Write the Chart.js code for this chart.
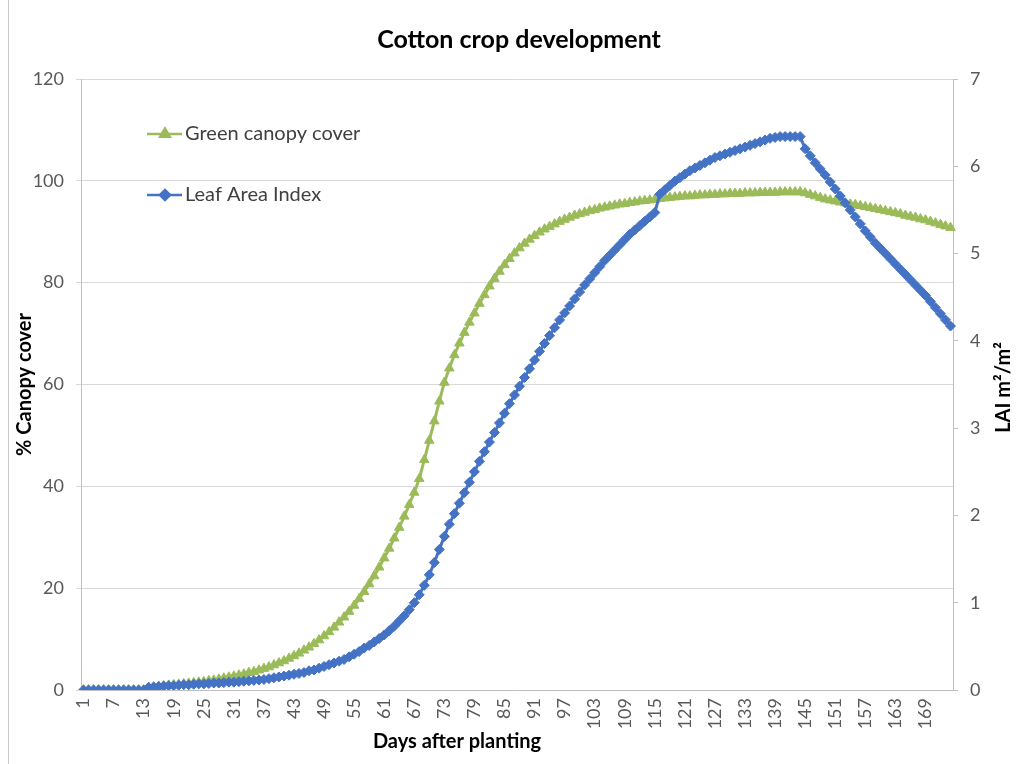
<!DOCTYPE html>
<html>
<head>
<meta charset="utf-8">
<title>Cotton crop development</title>
<script src="https://cdn.jsdelivr.net/npm/chart.js@4.4.1/dist/chart.umd.min.js"></script>
<style>
  html, body { margin: 0; padding: 0; background: #ffffff; }
  #wrap { position: relative; width: 1019px; height: 764px; overflow: hidden; }
  #frame { position: absolute; left: 8px; top: 0; bottom: 0; border-left: 1px solid #c8c8c8; }
  canvas { position: absolute; left: 0; top: 0; }
</style>
</head>
<body>
<div id="wrap">
  <canvas id="chart" width="1019" height="764"></canvas>
  <div id="frame"></div>
</div>
<script>
// Days after planting (category axis)
const days = [
  1,2,3,4,5,6,7,8,9,10,11,12,13,14,15,16,17,18,19,20,21,22,23,24,25,26,27,28,29,30,
  31,32,33,34,35,36,37,38,39,40,41,42,43,44,45,46,47,48,49,50,51,52,53,54,55,56,57,58,59,60,
  61,62,63,64,65,66,67,68,69,70,71,72,73,74,75,76,77,78,79,80,81,82,83,84,85,86,87,88,89,90,
  91,92,93,94,95,96,97,98,99,100,101,102,103,104,105,106,107,108,109,110,111,112,113,114,115,116,117,118,119,120,
  121,122,123,124,125,126,127,128,129,130,131,132,133,134,135,136,137,138,139,140,141,142,143,144,145,146,147,148,149,150,
  151,152,153,154,155,156,157,158,159,160,161,162,163,164,165,166,167,168,169,170,171,172,173,174
];

// Green canopy cover, % (left axis)
const canopyCover = [
  0,0,0,0,0,0,0,0,0,0,0,0,0,
  0.5,0.6,0.7,0.8,0.9,1.0,1.1,1.2,1.3,1.4,1.5,1.6,
  1.8,1.9,2.1,2.3,2.5,2.7,2.9,3.1,3.4,3.6,3.9,4.2,4.5,4.9,5.3,
  5.7,6.2,6.7,7.2,7.8,8.4,9.1,9.8,10.6,11.4,12.3,13.3,14.3,15.4,16.6,17.9,
  19.3,20.8,22.4,24.1,25.9,27.8,29.8,31.9,34.1,36.4,38.8,41.5,
  45.2,49.0,52.8,56.7,60.4,63.2,65.8,68.1,70.2,72.2,
  74.0,75.9,77.6,79.3,80.8,82.2,83.5,84.7,85.8,86.8,87.7,88.5,
  89.2,89.9,90.5,91.0,91.5,92.0,92.4,92.8,93.2,93.5,
  93.8,94.1,94.3,94.6,94.8,95.0,95.2,95.4,95.5,95.7,
  95.8,96.0,96.1,96.2,96.3,96.5,96.6,96.7,96.8,96.9,
  97.0,97.0,97.1,97.2,97.2,97.3,97.3,97.4,97.4,97.5,
  97.5,97.5,97.6,97.6,97.6,97.7,97.7,97.7,97.7,97.8,
  97.8,97.8,97.8,97.8,97.6,97.3,97.0,96.7,96.4,96.2,
  96.0,95.8,95.6,95.4,95.3,95.1,94.9,94.7,94.5,94.3,
  94.1,93.9,93.7,93.5,93.2,93.0,92.8,92.5,92.3,92.0,
  91.7,91.4,91.1,90.8
];

// Leaf area index, m2/m2 (right axis)
const leafAreaIndex = [
  0,0,0,0,0,0,0,0,0,0,0,0,0,
  0.03,0.035,0.04,0.045,0.05,0.05,0.055,0.06,0.06,0.065,0.07,0.07,
  0.075,0.08,0.08,0.085,0.09,0.09,0.095,0.10,0.105,0.11,0.115,0.12,0.13,0.14,0.15,
  0.16,0.17,0.18,0.19,0.20,0.22,0.23,0.25,0.27,0.29,0.31,0.33,0.35,0.38,0.41,0.44,
  0.48,0.51,0.55,0.59,0.63,0.68,0.73,0.79,0.85,0.92,1.00,1.09,
  1.20,1.32,1.46,1.61,1.76,1.90,2.02,2.14,2.26,2.38,
  2.50,2.62,2.73,2.84,2.95,3.06,3.17,3.28,3.38,3.48,3.58,3.68,
  3.78,3.88,3.97,4.06,4.15,4.24,4.32,4.40,4.48,4.56,
  4.64,4.71,4.78,4.85,4.92,4.98,5.04,5.10,5.16,5.22,
  5.27,5.32,5.37,5.42,5.47,5.68,5.73,5.78,5.83,5.87,
  5.91,5.95,5.98,6.01,6.04,6.07,6.10,6.12,6.14,6.16,
  6.18,6.20,6.22,6.24,6.26,6.28,6.30,6.32,6.33,6.34,
  6.34,6.34,6.34,6.34,6.20,6.12,6.04,5.97,5.90,5.82,
  5.74,5.66,5.58,5.50,5.42,5.34,5.26,5.19,5.12,5.06,
  5.00,4.94,4.88,4.82,4.76,4.70,4.64,4.58,4.52,4.45,
  4.38,4.31,4.24,4.17
];

const tickEvery = 6;          // label every 6th day
const coverTicks = { min: 0, max: 120, step: 20 };
const laiTicks = { min: 0, max: 7, step: 1 };

const FONT = "Lato, Carlito, 'Open Sans', sans-serif";
const GREEN = '#9BBB59';
const BLUE = '#4472C4';
const TICK_COLOR = '#595959';

// Axis titles drawn as text: left and right read bottom-to-top
const axisTitles = {
  id: 'axisTitles',
  afterDraw(chart) {
    const ctx = chart.ctx;
    const area = chart.chartArea;
    ctx.save();
    ctx.fillStyle = '#000000';
    ctx.font = 'bold 20px ' + FONT;
    ctx.textAlign = 'center';
    ctx.textBaseline = 'middle';
    const midY = (area.top + area.bottom) / 2;

    ctx.save();
    ctx.translate(25, midY);
    ctx.rotate(-Math.PI / 2);
    ctx.fillText('% Canopy cover', 0, 0);
    ctx.restore();

    ctx.save();
    ctx.translate(1004, midY + 3);
    ctx.rotate(-Math.PI / 2);
    ctx.fillText('LAI m\u00B2/m\u00B2', 0, 0);
    ctx.restore();

    ctx.fillText('Days after planting', 457, 742);
    ctx.restore();
  }
};

// Legend placed inside the plot area, one entry per row
const insideLegend = {
  id: 'insideLegend',
  afterDraw(chart) {
    const ctx = chart.ctx;
    const rows = [134, 195];
    ctx.save();
    chart.data.datasets.forEach((ds, i) => {
      const y = rows[i];
      ctx.strokeStyle = ds.borderColor;
      ctx.lineWidth = 2.5;
      ctx.beginPath();
      ctx.moveTo(147, y);
      ctx.lineTo(182, y);
      ctx.stroke();
      ctx.fillStyle = ds.pointBackgroundColor;
      ctx.strokeStyle = ds.pointBorderColor;
      Chart.helpers.drawPoint(ctx, {
        pointStyle: ds.pointStyle,
        radius: ds.pointRadius,
        rotation: 0,
        borderWidth: 1
      }, 165, y);
      ctx.fillStyle = '#404040';
      ctx.font = '20px ' + FONT;
      ctx.textAlign = 'left';
      ctx.textBaseline = 'middle';
      ctx.fillText(ds.label, 185, y);
    });
    ctx.restore();
  }
};

new Chart(document.getElementById('chart'), {
  type: 'line',
  data: {
    labels: days,
    datasets: [
      {
        label: 'Green canopy cover',
        data: canopyCover,
        yAxisID: 'yCover',
        borderColor: GREEN,
        backgroundColor: GREEN,
        pointBackgroundColor: GREEN,
        pointBorderColor: GREEN,
        pointStyle: 'triangle',
        pointRadius: 5.5,
        pointBorderWidth: 1,
        borderWidth: 3,
        tension: 0,
        order: 1
      },
      {
        label: 'Leaf Area Index',
        data: leafAreaIndex,
        yAxisID: 'yLai',
        borderColor: BLUE,
        backgroundColor: BLUE,
        pointBackgroundColor: BLUE,
        pointBorderColor: BLUE,
        pointStyle: 'rectRot',
        pointRadius: 5,
        pointBorderWidth: 1,
        borderWidth: 3,
        tension: 0,
        order: 0
      }
    ]
  },
  options: {
    responsive: false,
    animation: false,
    devicePixelRatio: 1,
    layout: { padding: { left: 19, right: 0, top: 0, bottom: 0 } },
    plugins: {
      legend: { display: false },
      tooltip: { enabled: false },
      title: {
        display: true,
        text: 'Cotton crop development',
        color: '#000000',
        font: { family: FONT, size: 25, weight: 'bold' },
        padding: { top: 25, bottom: 24 }
      }
    },
    scales: {
      x: {
        type: 'category',
        offset: true,
        grid: { display: false, drawTicks: false },
        border: { display: true, color: '#c0c0c0', width: 1 },
        ticks: {
          autoSkip: false,
          minRotation: 90,
          maxRotation: 90,
          padding: 8,
          color: TICK_COLOR,
          font: { family: FONT, size: 18 },
          callback: (v, i) => (i % tickEvery === 0 ? String(days[i]) : '')
        },
        afterFit: (s) => { s.height = 74; }
      },
      yCover: {
        type: 'linear',
        position: 'left',
        min: coverTicks.min,
        max: coverTicks.max,
        grid: { color: '#d9d9d9', lineWidth: 1, tickLength: 5 },
        border: { display: true, color: '#c0c0c0', width: 1 },
        ticks: {
          stepSize: coverTicks.step,
          padding: 12,
          color: TICK_COLOR,
          font: { family: FONT, size: 18 }
        },
        afterFit: (s) => { s.width = 62; }
      },
      yLai: {
        type: 'linear',
        position: 'right',
        min: laiTicks.min,
        max: laiTicks.max,
        grid: { drawOnChartArea: false, color: '#c0c0c0', tickLength: 5 },
        border: { display: true, color: '#c0c0c0', width: 1 },
        ticks: {
          stepSize: laiTicks.step,
          padding: 12,
          color: TICK_COLOR,
          font: { family: FONT, size: 18 }
        },
        afterFit: (s) => { s.width = 66; }
      }
    }
  },
  plugins: [axisTitles, insideLegend]
});
</script>
</body>
</html>
